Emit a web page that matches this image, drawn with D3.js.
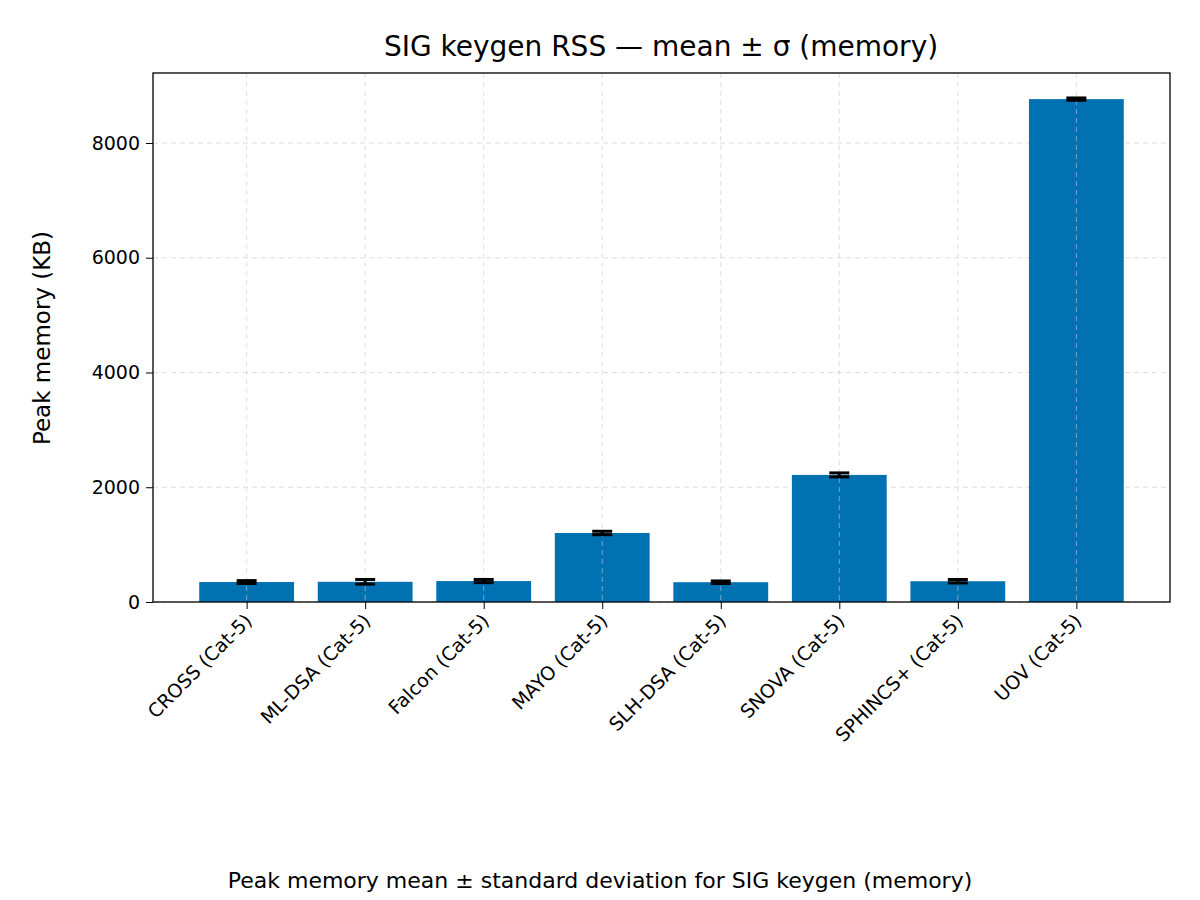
<!DOCTYPE html>
<html><head><meta charset="utf-8">
<script src="https://cdn.jsdelivr.net/npm/d3@7"></script>
<style>body{margin:0;background:#fff}text{font-family:"DejaVu Sans",sans-serif}</style>
</head><body><div id="chart"></div>
<script>
var categories = ['CROSS (Cat-5)', 'ML-DSA (Cat-5)', 'Falcon (Cat-5)', 'MAYO (Cat-5)', 'SLH-DSA (Cat-5)', 'SNOVA (Cat-5)', 'SPHINCS+ (Cat-5)', 'UOV (Cat-5)']
var means = [348, 352, 365, 1203, 345, 2215, 362, 8765]
var stds = [25, 40, 28, 30, 22, 35, 30, 20]
var yTicks = [0, 2000, 4000, 6000, 8000]

var margin = { top: 73, left: 153, right: 30, bottom: 298 }
var width = 1200 - margin.left - margin.right
var height = 900 - margin.top - margin.bottom

var svg = d3.select('#chart').append('svg')
  .attr('width', 1200).attr('height', 900)
var g = svg.append('g').attr('transform', 'translate(' + margin.left + ',' + margin.top + ')')

var x = d3.scaleLinear().domain([-0.79, 7.79]).range([0, width])
var y = d3.scaleLinear().domain([0, 9220]).range([height, 0])
var bw = x(0.4) - x(-0.4)

g.selectAll('.hg').data(yTicks).enter().append('line')
  .attr('x1', 0).attr('x2', width).attr('y1', d => y(d)).attr('y2', d => y(d))
  .attr('stroke', '#ddd').attr('stroke-dasharray', '5,4')

g.selectAll('.bar').data(means).enter().append('rect')
  .attr('x', (d, i) => x(i) - bw / 2).attr('width', bw)
  .attr('y', d => y(d)).attr('height', d => height - y(d))
  .attr('fill', '#0072b2')

g.selectAll('.vg').data(categories).enter().append('line')
  .attr('x1', (d, i) => x(i)).attr('x2', (d, i) => x(i)).attr('y1', 0).attr('y2', height)
  .attr('stroke', '#ccc').attr('stroke-opacity', 0.6).attr('stroke-dasharray', '5,4')

means.forEach(function (m, i) {
  var e = g.append('g').attr('stroke', '#000').attr('stroke-width', 3)
  e.append('line').attr('x1', x(i)).attr('x2', x(i)).attr('y1', y(m - stds[i])).attr('y2', y(m + stds[i]))
  e.append('line').attr('x1', x(i) - 10).attr('x2', x(i) + 10).attr('y1', y(m - stds[i])).attr('y2', y(m - stds[i]))
  e.append('line').attr('x1', x(i) - 10).attr('x2', x(i) + 10).attr('y1', y(m + stds[i])).attr('y2', y(m + stds[i]))
})

g.append('rect').attr('width', width).attr('height', height)
  .attr('fill', 'none').attr('stroke', '#000').attr('stroke-width', 1.3)

var ya = g.append('g').call(d3.axisLeft(y).tickValues(yTicks).tickSize(7).tickPadding(6).tickFormat(d3.format('d')))
ya.select('.domain').remove()
ya.selectAll('text').attr('font-size', 19).attr('fill', '#000')

var xa = g.append('g').attr('transform', 'translate(0,' + height + ')')
  .call(d3.axisBottom(x).tickValues(d3.range(categories.length)).tickSize(7).tickFormat(i => categories[i]))
xa.select('.domain').remove()
xa.selectAll('text').attr('font-size', 19).attr('fill', '#000')
  .attr('text-anchor', 'end').attr('dy', 0).attr('y', 0)
  .attr('transform', 'translate(6,20) rotate(-45)')

svg.append('text').attr('x', 661).attr('y', 56).attr('text-anchor', 'middle')
  .attr('font-size', 28).text('SIG keygen RSS — mean ± σ (memory)')
svg.append('text').attr('transform', 'translate(50,338) rotate(-90)').attr('text-anchor', 'middle')
  .attr('font-size', 23).text('Peak memory (KB)')
svg.append('text').attr('x', 600).attr('y', 888).attr('text-anchor', 'middle')
  .attr('font-size', 22).text('Peak memory mean ± standard deviation for SIG keygen (memory)')
</script></body></html>
